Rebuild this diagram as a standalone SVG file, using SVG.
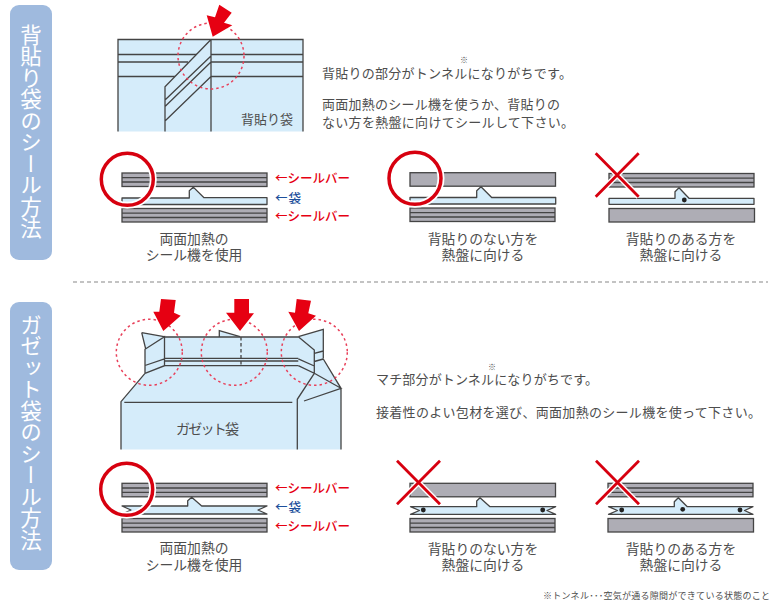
<svg xmlns="http://www.w3.org/2000/svg" width="780" height="608" viewBox="0 0 780 608">
<style>
text{font-family:"Noto Sans CJK JP","Noto Sans",sans-serif;fill:#4d4d4d}
.side{fill:#9fbade}
.sidet{fill:#fff;font-size:21.5px;writing-mode:vertical-rl;text-anchor:start}
.body{font-size:13px}
.cap{font-size:13.8px;text-anchor:middle}
.lab{font-size:12.5px;fill:#e60012;font-weight:500}
.labb{font-size:12.5px;fill:#1d4f9c;font-weight:500}
.ln{fill:none;stroke:#444;stroke-width:1.3}
.bag{fill:#d5ecfa;stroke:#444;stroke-width:1.3;stroke-linejoin:round}
.nof{fill:#d5ecfa;stroke:none}
.bar{fill:#aeadb5;stroke:#444;stroke-width:1.3}
.dash{fill:none;stroke:#e8405a;stroke-width:1.5;stroke-dasharray:2.5 3}
.arrow{fill:#e60012}
.hal{fill:none;stroke:#fff;stroke-width:7}
.ring{fill:none;stroke:#d7000f;stroke-width:3.5}
.x{fill:none;stroke:#d7000f;stroke-width:2.8}
.dot{fill:#222}
.div{stroke:#888;stroke-width:1.2;stroke-dasharray:4 3;fill:none}
</style>
<defs>
<g id="sbar">
<rect class="bar" x="0" y="0" width="145" height="13.5"/>
<path class="ln" d="M0 4.7H145M0 9H145"/>
</g>
<rect id="pbar" class="bar" x="0" y="0" width="145.5" height="13.5"/>
<g id="ring"><circle class="hal" r="26"/><circle class="ring" r="26"/></g>
<g id="cross">
<path class="hal" style="stroke-width:5.5" d="M0 0L43 43.5M43 0L0 43.5"/>
<path class="x" d="M0 0L43 43.5M43 0L0 43.5"/>
</g>
</defs>

<g id="sidebar-1">
<rect class="side" x="10" y="5" width="42" height="255" rx="9"/>
<text class="sidet" x="31" y="24">背貼り袋のシール方法</text>
</g>
<g id="sidebar-2">
<rect class="side" x="10" y="302" width="42" height="268" rx="9"/>
<text class="sidet" x="31" y="314">ガゼット袋のシール方法</text>
</g>
<path id="divider" class="div" d="M73 282H768"/>

<g id="back-seam-bag">
<rect class="nof" x="118" y="39.5" width="185" height="92"/>
<path class="ln" d="M118 131.5V39.5H303V131.5M118 54.5H303M118 62H188M211 62H303M118 76.5H182M211 76.5H303"/>
<path class="bag" d="M211 39.5L165 86.7V131.5H211Z" style="stroke:none"/>
<path class="ln" d="M211 39.5V131.5M211 39.5L165 86.7V131.5M211 56L165 100M211 62L165 106.5M211 76.5L165 121"/>
<text x="241" y="124" class="body" textLength="52">背貼り袋</text>
<circle class="dash" cx="211" cy="56" r="33"/>
<polygon class="arrow" points="219.3,4.7 231.7,12.7 224,22.7 232.3,25.3 212.7,36.7 206.7,15.3 215,17.3"/>
</g>

<g id="text-1">
<text class="body" x="322" y="78" textLength="250">背貼りの部分がトンネルになりがちです。</text>
<text x="460" y="63" style="font-size:8px">※</text>
<text class="body" x="322" y="109" textLength="238">両面加熱のシール機を使うか、背貼りの</text>
<text class="body" x="322" y="127" textLength="252">ない方を熱盤に向けてシールして下さい。</text>
</g>

<g id="seal-a1">
<use href="#sbar" x="122" y="173"/>
<path class="bag" d="M122 198H189.3L189.3 190.7L193.3 187.3L204 197.7H267V204.5H122Z"/>
<path class="nof" d="M189.8 191.5L193.5 188.5L203 198.5L194 198.5Z"/>
<use href="#sbar" x="122" y="208.5"/>
<use href="#ring" x="127.3" y="179.3"/>
<text class="lab" x="275" y="182.5" textLength="75">←シールバー</text>
<text class="labb" x="275" y="202.5" textLength="26">←袋</text>
<text class="lab" x="275" y="221" textLength="75">←シールバー</text>
<text class="cap" x="194" y="244">両面加熱の</text>
<text class="cap" x="194" y="260">シール機を使用</text>
</g>

<g id="seal-a2">
<use href="#pbar" x="410" y="172.7"/>
<path class="bag" d="M410 197.5H476.7L476.7 190.7L481 186.7L491.7 197.5H555.7V204H410Z"/>
<use href="#sbar" x="410" y="208"/>
<use href="#ring" x="415" y="178.3"/>
<text class="cap" x="483" y="244">背貼りのない方を</text>
<text class="cap" x="483" y="260">熱盤に向ける</text>
</g>

<g id="seal-a3">
<use href="#sbar" x="609" y="173.5"/>
<path class="bag" d="M609 198.3H675L675 191.7L679 187.7L689 198.3H754V204.3H609Z"/>
<circle class="dot" cx="684.3" cy="200" r="2.4"/>
<use href="#pbar" x="609" y="208.5"/>
<use href="#cross" x="595.7" y="153.3"/>
<text class="cap" x="681" y="244">背貼りのある方を</text>
<text class="cap" x="681" y="260">熱盤に向ける</text>
</g>

<g id="gusset-bag">
<path class="nof" d="M121 449.5V401.7L145 373.3V349.3L145.7 349L141.7 332.7L164 336.7H219.3V330.7L240 336.7H298.3L323.3 329.3V359L341 388.3V449.5Z"/>
<path class="ln" d="M121 449.5V401.7L145 373.3M124.3 402.3H292.3M165 337H298.3M165 358.3H298.3M165 361H298.3M165 365.7H298.3"/>
<path class="ln" d="M145 373.3V349.3L164.5 336.7V365.7L145 373.3M145 365.5L164.5 358.8M141.7 332.7L164 336.7M141.7 332.7L145.7 349"/>
<path class="ln" d="M219.3 337V330.7L240 336.7"/>
<path class="ln" style="stroke-dasharray:3.5 2.5" d="M241 337V365.7"/>
<path class="ln" d="M298.3 336.7L314.3 350V373.3L298.3 365.7M298.3 358.8L314.3 366M298.3 336.7L323.3 329.3V358.5M314.3 353.3L323.3 351M314.3 361.5L323.3 359M323.3 359L341 388.3V449.5M314.3 373.3L341 388.3L304 401M314.3 373.3L297.3 399.3V449.5"/>
<text class="body" style="font-size:14px" x="176" y="434" textLength="63">ガゼット袋</text>
<circle class="dash" cx="149.3" cy="352.3" r="33"/>
<circle class="dash" cx="234.3" cy="352.3" r="33"/>
<circle class="dash" cx="314.3" cy="352.3" r="33"/>
<polygon class="arrow" points="161,299 175.7,300 174,312.7 180.7,315.7 163.3,331 153.3,311.7 159.3,311.7"/>
<polygon class="arrow" points="234.3,299 249,299 249,313.3 254,313.3 240,331 226,312.7 234.3,312.7"/>
<polygon class="arrow" points="296.7,299 311,300.7 308.3,313.3 316,315.7 299,331 288.3,311.7 295,312.7"/>
</g>

<g id="text-2">
<text class="body" x="376" y="384" textLength="222">マチ部分がトンネルになりがちです。</text>
<text x="488" y="370" style="font-size:8px">※</text>
<text class="body" x="376" y="417" textLength="385">接着性のよい包材を選び、両面加熱のシール機を使って下さい。</text>
</g>

<g id="seal-b1">
<use href="#sbar" x="122" y="483.3"/>
<path class="bag" d="M122 506H187.7V500.7L191.7 497.3L201.7 506H267L258 510L267 514H122L131 510Z"/>
<use href="#sbar" x="122" y="518.5"/>
<use href="#ring" x="126.7" y="489.3"/>
<text class="lab" x="275" y="493" textLength="75">←シールバー</text>
<text class="labb" x="275" y="512" textLength="26">←袋</text>
<text class="lab" x="275" y="531" textLength="75">←シールバー</text>
<text class="cap" x="194" y="553">両面加熱の</text>
<text class="cap" x="194" y="570">シール機を使用</text>
</g>

<g id="seal-b2">
<use href="#pbar" x="410" y="483.3"/>
<path class="bag" d="M410.5 506.7H476.7V501L480 497.7L490 506.7H555.7L547 510.5L555.7 514.3H410.5L419.5 510.5Z"/>
<circle class="dot" cx="423.3" cy="510" r="2.4"/>
<circle class="dot" cx="542.7" cy="510" r="2.4"/>
<use href="#sbar" x="410" y="518.5"/>
<use href="#cross" x="397" y="460.7"/>
<text class="cap" x="483" y="554">背貼りのない方を</text>
<text class="cap" x="483" y="570">熱盤に向ける</text>
</g>

<g id="seal-b3">
<use href="#sbar" x="608" y="483.3"/>
<path class="bag" d="M608.5 506.7H674.3V501.7L678.3 497.7L687.3 506.7H753L744.5 510.5L753 514.3H608.5L617.5 510.5Z"/>
<circle class="dot" cx="621.7" cy="510" r="2.4"/>
<circle class="dot" cx="682.7" cy="509.3" r="2.4"/>
<circle class="dot" cx="740" cy="510" r="2.4"/>
<use href="#pbar" x="608" y="518.5"/>
<use href="#cross" x="596" y="460.7"/>
<text class="cap" x="681" y="554">背貼りのある方を</text>
<text class="cap" x="681" y="570">熱盤に向ける</text>
</g>

<text id="footnote" x="543" y="599" style="font-size:9px" textLength="227">※トンネル･･･空気が通る隙間ができている状態のこと</text>
</svg>
